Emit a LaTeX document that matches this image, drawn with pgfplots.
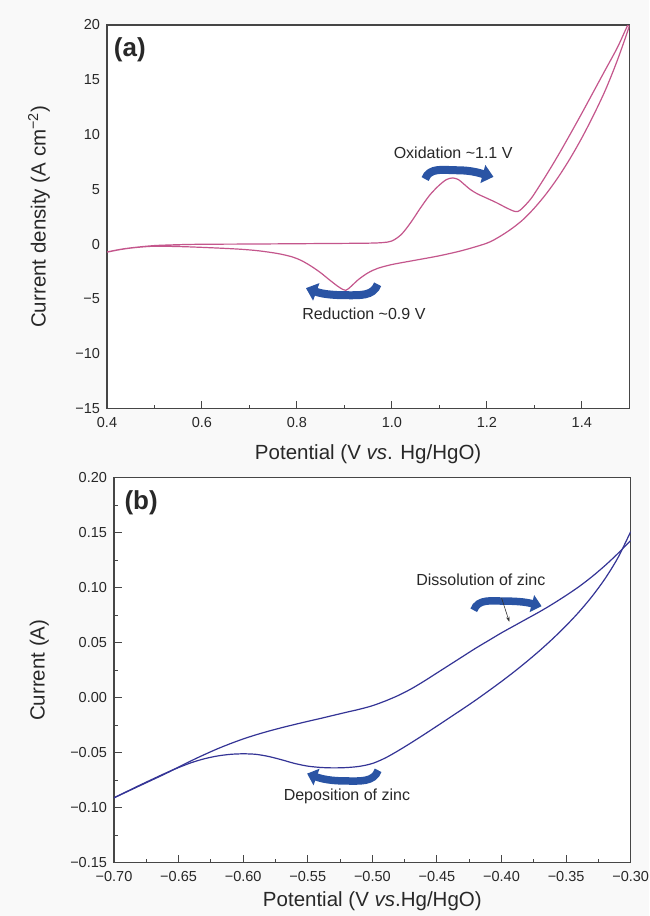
\documentclass[border=0pt]{standalone}
\usepackage{fontspec}
\setmainfont{Liberation Sans}
\usepackage{pgfplots}
\pgfplotsset{compat=1.18}
\usetikzlibrary{arrows.meta}
\definecolor{cvpink}{RGB}{196,86,140}
\definecolor{cvblue}{RGB}{52,52,150}
\definecolor{arrblue}{RGB}{42,84,164}
\definecolor{axgray}{RGB}{70,70,70}
\definecolor{txtgray}{RGB}{40,40,40}
\definecolor{bggray}{RGB}{249,249,249}

\pgfplotsset{
  cvstyle/.style={
    scale only axis,
    axis line style={axgray, line width=1.1pt},
    tick style={axgray, line width=1pt},
    major tick length=8pt, minor tick length=4pt,
    tick align=inside,
    xtick pos=left, ytick pos=left,
    tick label style={font=\fontsize{14.5}{16}\selectfont, text=txtgray},
    label style={font=\fontsize{20.5}{24}\selectfont, text=txtgray},
    xticklabel style={yshift=-5.2pt},
    yticklabel style={xshift=-3.5pt},
  }
}

\begin{document}
\begin{tikzpicture}
\path[use as bounding box, fill=bggray] (0,0) rectangle (649pt,-916pt);

% ---------------- panel (a) ----------------
\begin{axis}[cvstyle,
  at={(107pt,-25pt)}, anchor=north west,
  width=522.3pt, height=383.7pt,
  xmin=0.4, xmax=1.5, ymin=-15, ymax=20,
  xtick={0.4,0.6,0.8,1.0,1.2,1.4},
  xticklabels={0.4,0.6,0.8,1.0,1.2,1.4},
  minor xtick={0.5,0.7,0.9,1.1,1.3},
  ytick={-15,-10,-5,0,5,10,15,20},
  yticklabels={−15,−10,−5,0,5,10,15,20},
  ytick style={draw=none},
  xlabel={Potential (V \textit{vs}. Hg/HgO)},
  xlabel style={at={(axis description cs:0.5,-0.118)}, anchor=center},
  ylabel={Current density (A cm\textsuperscript{−2})},
  ylabel style={at={(axis description cs:-0.130,0.5)}, anchor=center},
  axis background/.style={fill=white},
]
\addplot[cvpink, line width=1.2pt, smooth, tension=0.5] coordinates {
(0.40,-0.70)(0.43,-0.45)(0.46,-0.28)(0.50,-0.12)(0.55,-0.04)(0.60,0.0)
(0.70,0.02)(0.80,0.05)(0.90,0.08)(0.95,0.10)(0.98,0.15)(1.00,0.30)
(1.02,0.9)(1.04,2.0)(1.06,3.3)(1.08,4.5)(1.10,5.4)(1.115,5.9)(1.128,6.05)
(1.14,5.9)(1.15,5.55)(1.165,5.0)(1.18,4.6)(1.20,4.2)(1.22,3.8)(1.24,3.35)
(1.255,3.05)(1.265,2.98)(1.275,3.3)(1.29,4.0)(1.30,4.6)(1.325,6.3)(1.35,8.1)
(1.375,10.0)(1.40,11.95)(1.425,13.95)(1.45,15.95)(1.475,17.95)(1.497,20)
(1.50,19.9)(1.475,16.8)(1.45,14.1)(1.425,11.8)(1.40,9.7)(1.375,7.8)(1.35,6.1)
(1.325,4.6)(1.30,3.3)(1.275,2.2)(1.25,1.35)(1.225,0.65)(1.20,0.1)(1.15,-0.55)
(1.10,-1.05)(1.05,-1.45)(1.00,-1.85)(0.97,-2.2)(0.95,-2.6)(0.93,-3.2)
(0.915,-3.8)(0.903,-4.2)(0.89,-3.95)(0.87,-3.3)(0.85,-2.6)(0.83,-2.0)
(0.81,-1.5)(0.79,-1.15)(0.76,-0.85)(0.72,-0.6)(0.68,-0.45)(0.62,-0.32)
(0.56,-0.22)(0.50,-0.18)(0.46,-0.3)(0.43,-0.47)(0.40,-0.72)
};
\node[font=\fontsize{26}{30}\selectfont\bfseries, text=txtgray] at (axis cs:0.448,17.77) {(a)};
\node[font=\fontsize{16}{18}\selectfont, text=txtgray] at (axis cs:1.129,8.32) {Oxidation \textasciitilde1.1 V};
\node[font=\fontsize{16}{18}\selectfont, text=txtgray] at (axis cs:0.941,-6.30) {Reduction \textasciitilde0.9 V};
\draw[arrblue, line width=8pt, -{Triangle[width=18pt,length=11pt]}]
  (axis cs:1.070,5.95) to[out=70,in=180] (axis cs:1.137,6.75) to[out=0,in=165] (axis cs:1.214,6.15);
\draw[arrblue, line width=8pt, -{Triangle[width=18pt,length=11pt]}]
  (axis cs:0.970,-3.65) to[out=-110,in=0] (axis cs:0.905,-4.65) to[out=180,in=-20] (axis cs:0.819,-4.0);
\end{axis}

% ---------------- panel (b) ----------------
\begin{axis}[cvstyle,
  at={(114pt,-477.7pt)}, anchor=north west,
  width=516.7pt, height=385pt,
  xmin=-0.70, xmax=-0.30, ymin=-0.15, ymax=0.20,
  xtick={-0.70,-0.65,-0.60,-0.55,-0.50,-0.45,-0.40,-0.35,-0.30},
  xticklabels={−0.70,−0.65,−0.60,−0.55,−0.50,−0.45,−0.40,−0.35,−0.30},
  ytick={-0.15,-0.10,-0.05,0,0.05,0.10,0.15,0.20},
  yticklabels={−0.15,−0.10,−0.05,0.00,0.05,0.10,0.15,0.20},
  minor x tick num=1, minor y tick num=1,
  xlabel={Potential (V \textit{vs}.Hg/HgO)},
  xlabel style={at={(axis description cs:0.5,-0.10)}, anchor=center},
  ylabel={Current (A)},
  ylabel style={at={(axis description cs:-0.1446,0.5)}, anchor=center},
  axis background/.style={fill=white},
]
\addplot[cvblue, line width=1.2pt, smooth, tension=0.5] coordinates {
(-0.30,0.143)(-0.31,0.131)(-0.32,0.120)(-0.33,0.110)(-0.34,0.101)(-0.35,0.093)
(-0.36,0.0855)(-0.37,0.0785)(-0.38,0.072)(-0.39,0.0655)(-0.40,0.059)(-0.41,0.052)
(-0.42,0.045)(-0.43,0.0375)(-0.44,0.030)(-0.45,0.0225)(-0.46,0.015)(-0.47,0.008)
(-0.48,0.002)(-0.49,-0.003)(-0.50,-0.0073)(-0.51,-0.0105)(-0.52,-0.0132)
(-0.53,-0.0160)(-0.54,-0.0188)(-0.55,-0.0215)(-0.56,-0.0243)(-0.57,-0.0272)
(-0.58,-0.0303)(-0.59,-0.0337)(-0.60,-0.0375)(-0.61,-0.0418)(-0.62,-0.0465)
(-0.63,-0.0517)(-0.64,-0.0572)(-0.65,-0.0630)(-0.66,-0.0690)(-0.68,-0.0800)(-0.70,-0.0910)
};
\addplot[cvblue, line width=1.2pt, smooth, tension=0.5] coordinates {
(-0.70,-0.091)(-0.68,-0.0795)(-0.66,-0.0685)(-0.65,-0.0635)(-0.64,-0.0590)
(-0.63,-0.0555)(-0.62,-0.0530)(-0.61,-0.0515)(-0.60,-0.0510)(-0.59,-0.0515)
(-0.58,-0.0535)(-0.57,-0.0565)(-0.56,-0.0598)(-0.55,-0.0622)(-0.54,-0.0634)
(-0.53,-0.0638)(-0.52,-0.0635)(-0.51,-0.0624)(-0.50,-0.0598)(-0.49,-0.0548)
(-0.48,-0.0482)(-0.47,-0.0410)(-0.46,-0.0335)(-0.45,-0.0258)(-0.44,-0.0180)
(-0.43,-0.0102)(-0.42,-0.0022)(-0.41,0.0062)(-0.40,0.0148)(-0.39,0.0238)
(-0.38,0.0333)(-0.37,0.0433)(-0.36,0.0540)(-0.35,0.0655)(-0.34,0.0780)
(-0.33,0.0920)(-0.32,0.1080)(-0.31,0.1270)(-0.30,0.1510)
};
\node[font=\fontsize{26}{30}\selectfont\bfseries, text=txtgray] at (axis cs:-0.679,0.1775) {(b)};
\node[font=\fontsize{16}{18}\selectfont, text=txtgray] at (axis cs:-0.416,0.107) {Dissolution of zinc};
\node[font=\fontsize{16}{18}\selectfont, text=txtgray] at (axis cs:-0.5197,-0.090) {Deposition of zinc};
\draw[arrblue, line width=7.5pt, -{Triangle[width=17pt,length=10pt]}]
  (axis cs:-0.4215,0.0795) to[out=70,in=180] (axis cs:-0.397,0.0878) to[out=0,in=165] (axis cs:-0.369,0.0832);
\draw[arrblue, line width=7.5pt, -{Triangle[width=17pt,length=10pt]}]
  (axis cs:-0.4955,-0.0660) to[out=-110,in=0] (axis cs:-0.5199,-0.0757) to[out=180,in=-20] (axis cs:-0.5505,-0.0690);
\draw[black!80, line width=0.6pt, -{Stealth[length=5pt,width=3.5pt]}]
  (axis cs:-0.3999,0.0904) -- (axis cs:-0.394,0.0691);
\end{axis}
\end{tikzpicture}
\end{document}
